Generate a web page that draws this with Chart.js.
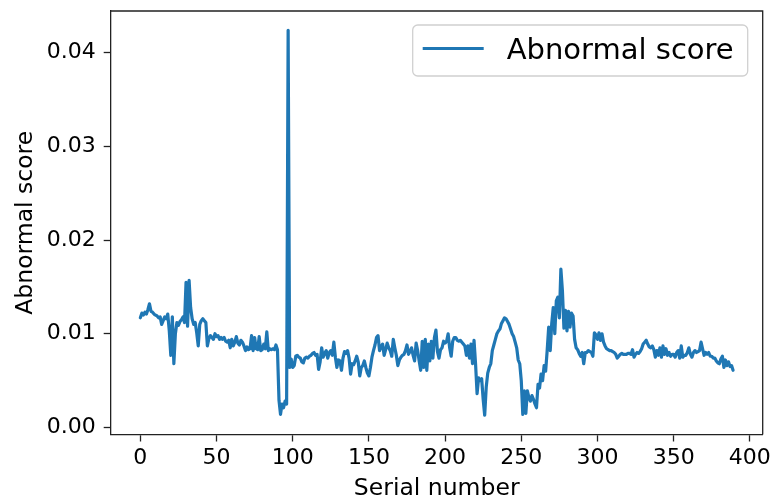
<!DOCTYPE html>
<html>
<head>
<meta charset="utf-8">
<script src="https://cdn.jsdelivr.net/npm/chart.js@4/dist/chart.umd.min.js"></script>
<style>
html,body{margin:0;padding:0;background:#fff;}
#wrap{width:772px;height:501px;position:relative;}
</style>
</head>
<body>
<div id="wrap"><canvas id="c" width="772" height="501"></canvas></div>
<script>
// ---- data ----
const seriesLabel = "Abnormal score";
const xTitle = "Serial number";
const yTitle = "Abnormal score";
const xTickValues = [0, 50, 100, 150, 200, 250, 300, 350, 400];
const yTickValues = [0, 0.01, 0.02, 0.03, 0.04];
const scores = [
0.0117,0.0122,0.0120,0.0123,0.0121,0.0126,0.0132,0.0124,0.0123,0.0121,
0.0120,0.0119,0.0117,0.0118,0.0110,0.0114,0.0118,0.0116,0.0121,0.0103,
0.0077,0.0118,0.0068,0.0100,0.0112,0.0109,0.0113,0.0115,0.0118,0.0112,
0.0155,0.0108,0.0157,0.0128,0.0116,0.0110,0.0112,0.0101,0.0087,0.0110,
0.0114,0.0116,0.0114,0.0112,0.0087,0.0095,0.0098,0.0096,0.0094,0.0100,
0.0097,0.0098,0.0094,0.0096,0.0094,0.0096,0.0092,0.0091,0.0093,0.0085,
0.0094,0.0087,0.0091,0.0097,0.0090,0.0088,0.0093,0.0091,0.0087,0.0082,
0.0086,0.0083,0.0084,0.0098,0.0082,0.0096,0.0084,0.0083,0.0097,0.0082,
0.0083,0.0089,0.0084,0.0102,0.0082,0.0084,0.0083,0.0084,0.0083,0.0088,
0.0083,0.0029,0.0014,0.0025,0.0021,0.0028,0.0025,0.0424,0.0064,0.0073,
0.0064,0.0066,0.0076,0.0077,0.0075,0.0074,0.0070,0.0069,0.0074,0.0075,
0.0074,0.0076,0.0077,0.0079,0.0080,0.0077,0.0078,0.0062,0.0070,0.0085,
0.0075,0.0079,0.0082,0.0074,0.0080,0.0082,0.0077,0.0091,0.0075,0.0064,
0.0072,0.0071,0.0061,0.0074,0.0081,0.0079,0.0082,0.0074,0.0057,0.0068,
0.0067,0.0071,0.0076,0.0070,0.0055,0.0064,0.0066,0.0071,0.0064,0.0058,
0.0055,0.0064,0.0075,0.0082,0.0088,0.0096,0.0098,0.0082,0.0086,0.0089,
0.0077,0.0083,0.0090,0.0085,0.0082,0.0076,0.0094,0.0085,0.0077,0.0066,
0.0072,0.0075,0.0077,0.0078,0.0082,0.0088,0.0078,0.0081,0.0085,0.0077,
0.0071,0.0090,0.0082,0.0071,0.0061,0.0092,0.0064,0.0094,0.0061,0.0089,
0.0071,0.0092,0.0074,0.0096,0.0104,0.0081,0.0074,0.0083,0.0085,0.0092,
0.0090,0.0092,0.0100,0.0085,0.0076,0.0092,0.0096,0.0096,0.0093,0.0092,
0.0093,0.0091,0.0089,0.0087,0.0077,0.0087,0.0074,0.0089,0.0068,0.0093,
0.0068,0.0036,0.0053,0.0050,0.0052,0.0030,0.0013,0.0043,0.0058,0.0064,
0.0068,0.0082,0.0088,0.0094,0.0100,0.0103,0.0105,0.0111,0.0114,0.0117,
0.0116,0.0113,0.0110,0.0105,0.0100,0.0097,0.0091,0.0085,0.0072,0.0068,
0.0050,0.0014,0.0039,0.0015,0.0039,0.0032,0.0028,0.0034,0.0030,0.0025,
0.0021,0.0046,0.0042,0.0057,0.0050,0.0066,0.0060,0.0082,0.0107,0.0082,
0.0111,0.0128,0.0100,0.0135,0.0139,0.0117,0.0169,0.0146,0.0106,0.0125,
0.0103,0.0124,0.0107,0.0122,0.0119,0.0094,0.0085,0.0083,0.0079,0.0076,
0.0080,0.0068,0.0080,0.0080,0.0082,0.0081,0.0080,0.0076,0.0101,0.0099,
0.0094,0.0101,0.0093,0.0100,0.0091,0.0087,0.0084,0.0083,0.0082,0.0082,
0.0081,0.0080,0.0078,0.0074,0.0076,0.0078,0.0079,0.0078,0.0078,0.0078,
0.0079,0.0079,0.0078,0.0083,0.0075,0.0078,0.0080,0.0079,0.0081,0.0084,
0.0089,0.0091,0.0093,0.0089,0.0086,0.0085,0.0087,0.0083,0.0075,0.0082,
0.0077,0.0085,0.0075,0.0087,0.0078,0.0084,0.0077,0.0080,0.0076,0.0078,
0.0078,0.0075,0.0080,0.0082,0.0074,0.0087,0.0075,0.0077,0.0077,0.0080,
0.0085,0.0078,0.0075,0.0080,0.0082,0.0080,0.0081,0.0082,0.0091,0.0084,
0.0077,0.0080,0.0078,0.0080,0.0076,0.0076,0.0074,0.0074,0.0071,0.0069,
0.0068,0.0073,0.0076,0.0064,0.0072,0.0066,0.0070,0.0065,0.0066,0.0061
];
const serial = scores.map((_, i) => i);

// ---- styling ----
const LINE_COLOR = '#1f77b4';
const AXIS_COLOR = '#222222';
const FONT = "'DejaVu Sans', sans-serif";

// matplotlib-like 5% margins
const xMin = Math.min(...serial), xMax = Math.max(...serial);
const yMinD = Math.min(...scores), yMaxD = Math.max(...scores);
const xPad = (xMax - xMin) * 0.05, yPad = (yMaxD - yMinD) * 0.05;

const points = serial.map((x, i) => ({x: x, y: scores[i]}));

const framePlugin = {
  id: 'frame',
  afterDatasetsDraw(chart) {
    const {ctx, chartArea: a} = chart;
    ctx.save();
    ctx.strokeStyle = AXIS_COLOR;
    ctx.lineWidth = 1.3;
    ctx.beginPath();
    ctx.moveTo(a.left, a.top);
    ctx.lineTo(a.right, a.top);
    ctx.lineTo(a.right, a.bottom);
    ctx.stroke();
    ctx.restore();
  },
  afterDraw(chart) {
    const {ctx, chartArea: a} = chart;
    const ds = chart.data.datasets[0];
    const w = 335, h = 51;
    const x0 = a.right - 15 - w, y0 = a.top + 14;
    ctx.save();
    ctx.beginPath();
    if (ctx.roundRect) ctx.roundRect(x0, y0, w, h, 5); else ctx.rect(x0, y0, w, h);
    ctx.fillStyle = 'rgba(255,255,255,0.8)';
    ctx.fill();
    ctx.strokeStyle = '#d0d0d0';
    ctx.lineWidth = 1.3;
    ctx.stroke();
    ctx.beginPath();
    ctx.strokeStyle = ds.borderColor;
    ctx.lineWidth = ds.borderWidth;
    ctx.moveTo(x0 + 10, y0 + 23.5);
    ctx.lineTo(x0 + 71, y0 + 23.5);
    ctx.stroke();
    ctx.fillStyle = '#000';
    ctx.font = '29px ' + FONT;
    ctx.textBaseline = 'alphabetic';
    ctx.textAlign = 'left';
    ctx.fillText(ds.label, x0 + 94, y0 + 33.5);
    ctx.restore();
  }
};

new Chart(document.getElementById('c'), {
  type: 'line',
  data: {
    datasets: [{
      label: seriesLabel,
      data: points,
      borderColor: LINE_COLOR,
      backgroundColor: LINE_COLOR,
      borderWidth: 3.2,
      pointRadius: 0,
      tension: 0,
      fill: false,
      borderJoinStyle: 'round',
      borderCapStyle: 'round'
    }]
  },
  options: {
    responsive: false,
    animation: false,
    devicePixelRatio: 1,
    layout: {padding: {top: 11, right: 9.3, left: 0, bottom: 0}},
    plugins: {legend: {display: false}, tooltip: {enabled: false}},
    scales: {
      x: {
        type: 'linear',
        min: xMin - xPad,
        max: xMax + xPad,
        afterBuildTicks(scale) { scale.ticks = xTickValues.map(v => ({value: v})); },
        afterFit(scale) { scale.height = 66.5; scale.paddingLeft = 0; scale.paddingRight = 0; },
        ticks: {color: '#000', font: {family: FONT, size: 22}, padding: 4, maxRotation: 0, autoSkip: false,
                callback: v => String(v)},
        grid: {drawOnChartArea: false, drawTicks: true, tickLength: 7, tickWidth: 1.3, tickColor: AXIS_COLOR},
        border: {display: true, color: AXIS_COLOR, width: 1.3},
        title: {display: true, text: xTitle, color: '#000', font: {family: FONT, size: 23.5}, padding: {top: 0, bottom: -2}}
      },
      y: {
        type: 'linear',
        min: yMinD - yPad,
        max: yMaxD + yPad,
        afterBuildTicks(scale) { scale.ticks = yTickValues.map(v => ({value: v})); },
        afterFit(scale) { scale.width = 110.7; scale.paddingTop = 0; scale.paddingBottom = 0; },
        ticks: {color: '#000', font: {family: FONT, size: 22}, padding: 8, autoSkip: false,
                callback: v => v.toFixed(2)},
        grid: {drawOnChartArea: false, drawTicks: true, tickLength: 7, tickWidth: 1.3, tickColor: AXIS_COLOR},
        border: {display: true, color: AXIS_COLOR, width: 1.3},
        title: {display: true, text: yTitle, color: '#000', font: {family: FONT, size: 23.5}, padding: {top: 12, bottom: 0}}
      }
    }
  },
  plugins: [framePlugin]
});
</script>
</body>
</html>
